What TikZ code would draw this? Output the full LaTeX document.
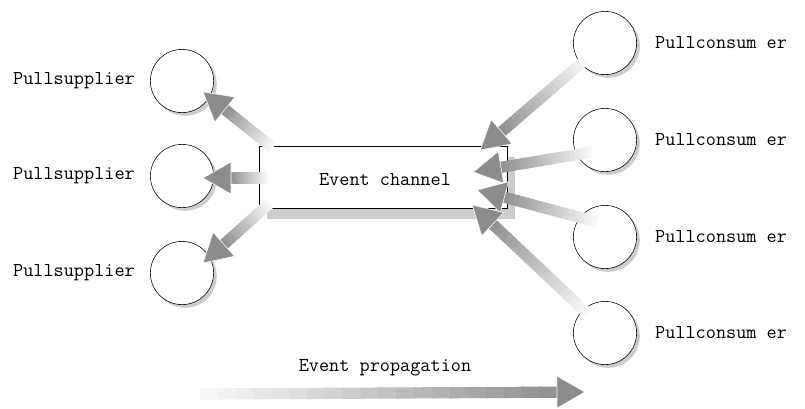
\documentclass[tikz,border=0pt]{standalone}
\usetikzlibrary{calc,positioning,shadows}

\tikzset{
	pull/.style={circle,draw,thin,fill=white,minimum size=1.58cm,inner sep=0pt,
		drop shadow={shadow xshift=0.08cm,shadow yshift=-0.08cm,opacity=1,fill=black!20}},
	lbl/.style={font=\ttfamily\fontsize{14}{16}\selectfont,inner sep=0pt},
	chanbox/.style={draw,thin,fill=white,minimum width=6.2cm,minimum height=1.55cm,
		drop shadow={shadow xshift=0.2cm,shadow yshift=-0.27cm,opacity=1,fill=black!20}},
}

% faded fat arrow from #1 (light) to #2 (tip)
\newcommand{\fadearrow}[2]{%
	\coordinate (fab) at ($(#2)!0.7cm!(#1)$);
	\foreach \i in {0,...,19}{
		\pgfmathsetmacro{\tone}{3+2.1*\i}
		\draw[line width=0.28cm,black!\tone] ($(#1)!\i/20!(fab)$) -- ($(#1)!\i/20+0.056!(fab)$);
	}
	\filldraw[fill=black!45,draw=white,thin] (#2) -- ($(fab)!0.4cm!90:(#2)$) -- ($(fab)!0.4cm!-90:(#2)$) -- cycle;
}

\begin{document}
\begin{tikzpicture}[x=0.025cm,y=-0.025cm]
	\useasboundingbox (0,0) rectangle (805,409);

	\node[chanbox] at (383,177) (chan) {};
	\node[lbl] at (385,180) (chantext) {Event channel};

	\node[pull] at (182,81) (sup1) {};
	\node[pull] at (182,176) (sup2) {};
	\node[pull] at (182,273) (sup3) {};
	\node[lbl,left=0.375cm of sup1] (sup1l) {Pullsupplier};
	\node[lbl,left=0.375cm of sup2] (sup2l) {Pullsupplier};
	\node[lbl,left=0.375cm of sup3] (sup3l) {Pullsupplier};

	\node[pull] at (605,43) (con1) {};
	\node[pull] at (605,140) (con2) {};
	\node[pull] at (605,237) (con3) {};
	\node[pull] at (605,333) (con4) {};
	\node[lbl,right=0.45cm of con1] (con1l) {Pullconsum er};
	\node[lbl,right=0.45cm of con2] (con2l) {Pullconsum er};
	\node[lbl,right=0.45cm of con3] (con3l) {Pullconsum er};
	\node[lbl,right=0.45cm of con4] (con4l) {Pullconsum er};

	% supplier side
	\coordinate (s1a) at ($(chan.north west)+(14,2)$);
	\coordinate (s2a) at ($(chan.west)+(9,1)$);
	\coordinate (s3a) at ($(chan.south west)+(11,-5)$);
	\coordinate (s1b) at ($(sup1)+(21,11)$);
	\coordinate (s2b) at ($(sup2)+(21,2)$);
	\coordinate (s3b) at ($(sup3)+(21,-10)$);
	\fadearrow{s1a}{s1b}
	\fadearrow{s2a}{s2b}
	\fadearrow{s3a}{s3b}

	% consumer side
	\coordinate (c1a) at ($(con1)+(-20,17)$);
	\coordinate (c2a) at ($(con2)+(-13,12)$);
	\coordinate (c3a) at ($(con3)+(-8,-15)$);
	\coordinate (c4a) at ($(con4)+(-18,-20)$);
	\coordinate (c1b) at ($(chan.east)+(-27,-27)$);
	\coordinate (c2b) at ($(chan.east)+(-34,-5)$);
	\coordinate (c3b) at ($(chan.east)+(-30,13)$);
	\coordinate (c4b) at ($(chan.east)+(-35,28)$);
	\fadearrow{c1a}{c1b}
	\fadearrow{c2a}{c2b}
	\fadearrow{c3a}{c3b}
	\fadearrow{c4a}{c4b}

	\node[lbl] at (385,368) (prop) {Event propagation};
	\coordinate (pa) at (200,394);
	\coordinate (pb) at (585,392);
	\fadearrow{pa}{pb}
\end{tikzpicture}
\end{document}
